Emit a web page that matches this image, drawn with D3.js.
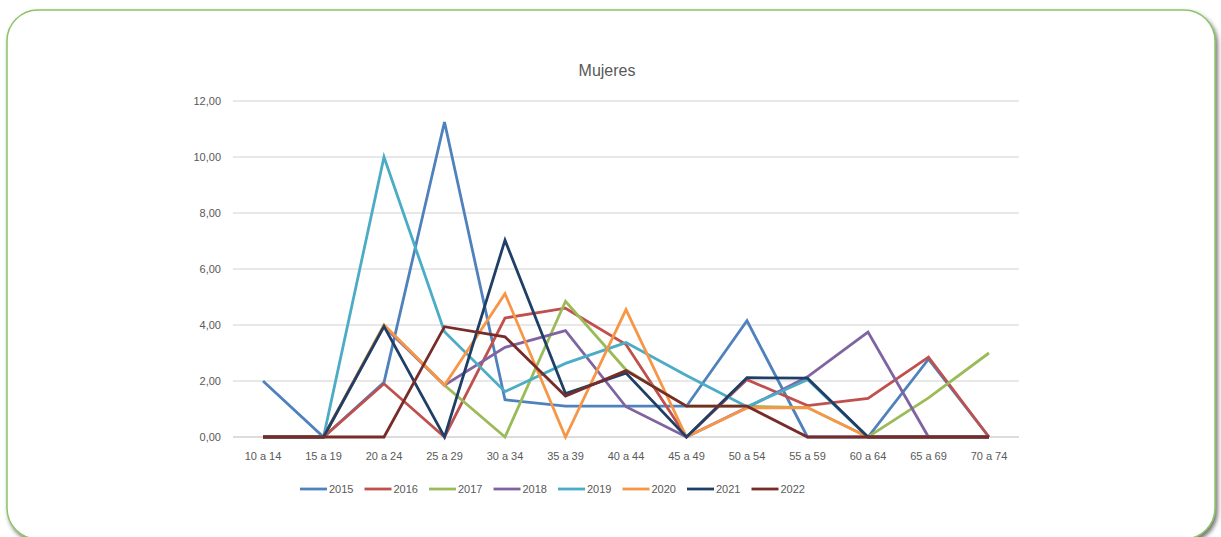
<!DOCTYPE html>
<html><head><meta charset="utf-8">
<script src="https://cdn.jsdelivr.net/npm/d3@7"></script>
<style>body{margin:0;background:#fff;}svg{display:block;font-family:"Liberation Sans",Arial,sans-serif;}</style>
</head><body><svg id="c" width="1221" height="537"></svg>
<script>
const categories = ["10 a 14","15 a 19","20 a 24","25 a 29","30 a 34","35 a 39","40 a 44","45 a 49","50 a 54","55 a 59","60 a 64","65 a 69","70 a 74"];
const years = ["2015","2016","2017","2018","2019","2020","2021","2022"];
const v2015 = [2.0,0,1.95,11.25,1.33,1.1,1.1,1.1,4.15,0,0,2.78,0];
const v2016 = [0,0,1.9,0,4.25,4.6,3.3,0,2.05,1.12,1.38,2.85,0];
const v2017 = [0,0,4.0,1.85,0,4.85,2.4,1.1,1.1,1.05,0,1.4,3.0];
const v2018 = [0,0,3.95,1.85,3.2,3.8,1.08,0,1.05,2.15,3.75,0,0];
const v2019 = [0,0,10.0,3.76,1.62,2.63,3.37,2.2,1.08,2.05,0,0,0];
const v2020 = [0,0,4.0,1.85,5.12,0,4.55,0,1.04,1.05,0,0,0];
const v2021 = [0,0,3.95,0,7.03,1.55,2.28,0,2.12,2.1,0,0,0];
const v2022 = [0,0,0,3.94,3.58,1.46,2.37,1.1,1.1,0,0,0,0];
const seriesValues = [v2015,v2016,v2017,v2018,v2019,v2020,v2021,v2022];
const colors = ["#4F81BD","#C0504D","#9BBB59","#8064A2","#4BACC6","#F79646","#1F3F66","#772C2A"];
const yTicks = [0,2,4,6,8,10,12];

const svg = d3.select("#c");
const defs = svg.append("defs");
const f = defs.append("filter").attr("id","sh").attr("x","-5%").attr("y","-5%").attr("width","110%").attr("height","115%");
f.append("feDropShadow").attr("dx",2).attr("dy",3).attr("stdDeviation",2.2).attr("flood-color","#444").attr("flood-opacity",0.75);
svg.append("rect").attr("x",7).attr("y",10).attr("width",1208).attr("height",529).attr("rx",31)
  .attr("fill","#fff").attr("stroke","#8CC46A").attr("stroke-width",1.5).attr("filter","url(#sh)");

const x = d3.scalePoint().domain(categories).range([263,989]);
const y = d3.scaleLinear().domain([0,12]).range([437,101]);
const left = 233, right = 1019;

const g = svg.append("g");
g.selectAll("line.grid").data(yTicks).join("line").attr("class","grid")
  .attr("x1",left).attr("x2",right).attr("y1",d=>y(d)).attr("y2",d=>y(d))
  .attr("stroke",d=>d===0?"#d0d0d0":"#e0e0e0").attr("stroke-width",1.3);

const fmt = d => d.toFixed(2).replace(".",",");
g.selectAll("text.yt").data(yTicks).join("text").attr("class","yt")
  .attr("x",221).attr("y",d=>y(d)+4).attr("text-anchor","end")
  .attr("font-size",11).attr("fill","#595959").text(fmt);

g.selectAll("text.xt").data(categories).join("text").attr("class","xt")
  .attr("x",d=>x(d)).attr("y",460).attr("text-anchor","middle")
  .attr("font-size",11).attr("fill","#595959").text(d=>d);

svg.append("text").attr("x",607).attr("y",76).attr("text-anchor","middle")
  .attr("font-size",16).attr("fill","#595959").text("Mujeres");

const line = d3.line().x((d,i)=>x(categories[i])).y(d=>y(d));
seriesValues.forEach((vals,k)=>{
  g.append("path").attr("d",line(vals)).attr("fill","none")
    .attr("stroke",colors[k]).attr("stroke-width",2.8).attr("stroke-linejoin","miter");
});

const lg = svg.append("g");
years.forEach((yr,k)=>{
  const lx = 300 + k*64.5;
  lg.append("line").attr("x1",lx).attr("x2",lx+27).attr("y1",489).attr("y2",489)
    .attr("stroke",colors[k]).attr("stroke-width",2.8);
  lg.append("text").attr("x",lx+29).attr("y",493).attr("font-size",11).attr("fill","#595959").text(yr);
});
</script></body></html>
